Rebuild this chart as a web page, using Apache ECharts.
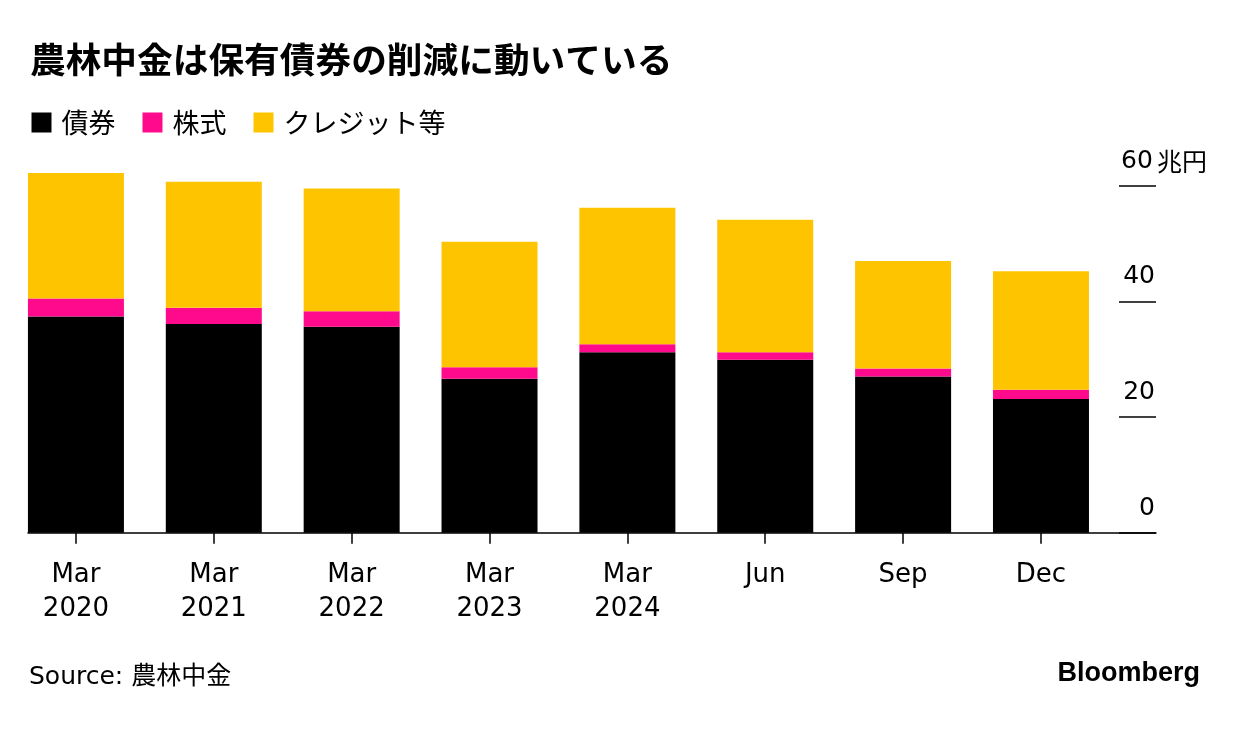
<!DOCTYPE html>
<html>
<head>
<meta charset="utf-8">
<script src="https://cdn.jsdelivr.net/npm/echarts@6/dist/echarts.min.js"></script>
<style>
html,body{margin:0;padding:0;background:#fff;}
#chart{width:1240px;height:732px;}
</style>
</head>
<body>
<div id="chart"></div>
<script>
// ---- data ----
const categories = ['Mar\n2020','Mar\n2021','Mar\n2022','Mar\n2023','Mar\n2024','Jun','Sep','Dec'];
const bonds  = [37.4, 36.1, 35.6, 26.6, 31.2, 29.9, 27.0, 23.1];   // 債券
const stocks = [3.1, 2.8, 2.7, 2.0, 1.4, 1.3, 1.4, 1.6];           // 株式
const credit = [21.7, 21.8, 21.2, 21.7, 23.6, 22.9, 18.6, 20.5];   // クレジット等
const seriesNames = ['債券', '株式', 'クレジット等'];
const yTicks = [0, 20, 40, 60];
const yUnit = '兆円';
const titleText = '農林中金は保有債券の削減に動いている';
const sourceText = 'Source: 農林中金';
const brandText = 'Bloomberg';

const LATIN = '"DejaVu Sans", "Noto Sans CJK JP", sans-serif';
const CJK = '"Noto Sans CJK JP", sans-serif';
const colors = ['#000000', '#ff0a8c', '#ffc400'];

const chart = echarts.init(document.getElementById('chart'), null, {renderer: 'canvas'});

const gridTop = 185.7, gridHeight = 347;

const option = {
  animation: false,
  backgroundColor: '#ffffff',
  title: [
    {text: titleText, left: 25, top: 37,
     textStyle: {fontFamily: CJK, fontWeight: 'bold', fontSize: 35.7, color: '#000'}},
    {text: sourceText, left: 24, top: 660,
     textStyle: {fontFamily: LATIN, fontWeight: 'normal', fontSize: 25, color: '#000'}},
    {text: brandText, right: 35, top: 655,
     textStyle: {fontFamily: '"Liberation Sans", sans-serif', fontWeight: 'bold', fontSize: 27, color: '#000'}}
  ],
  legend: {
    left: 26.5, top: 104,
    icon: 'rect', itemWidth: 20, itemHeight: 20, itemGap: 27,
    data: seriesNames,
    textStyle: {fontFamily: CJK, fontSize: 27, color: '#000', padding: [0, 0, 0, 5]},
    selectedMode: false
  },
  grid: [
    {left: 7, width: 1102.9, top: gridTop, height: gridHeight, containLabel: false},
    {left: 28, right: 84, top: gridTop, height: gridHeight, containLabel: false},
    {left: 1119, right: 84, top: gridTop, height: gridHeight, containLabel: false}
  ],
  xAxis: [
    {type: 'category', gridIndex: 0, data: categories,
     axisLine: {show: false},
     axisTick: {show: true, alignWithLabel: true, length: 11, lineStyle: {color: '#000', width: 1.5}},
     axisLabel: {fontFamily: LATIN, fontSize: 26, color: '#000', lineHeight: 34, margin: 26}},
    {type: 'value', gridIndex: 1, min: 0, max: 1,
     axisLine: {show: true, onZero: false, lineStyle: {color: '#000', width: 1.5}},
     axisTick: {show: false}, axisLabel: {show: false}, splitLine: {show: false}},
    {type: 'value', gridIndex: 2, min: 0, max: 1, show: false}
  ],
  yAxis: [
    {type: 'value', gridIndex: 0, min: 0, max: 60, show: false},
    {type: 'value', gridIndex: 1, min: 0, max: 60, show: false},
    {type: 'value', gridIndex: 2, position: 'right',
     min: yTicks[0], max: yTicks[yTicks.length - 1], interval: 20,
     axisLine: {show: false},
     axisTick: {show: false},
     splitLine: {show: true, lineStyle: {color: '#000', width: 1.5}},
     axisLabel: {
       inside: true, margin: 37, align: 'left', verticalAlign: 'bottom', padding: [0, 0, 12, 0],
       formatter: function (v) {
         return v === yTicks[yTicks.length - 1] ? '{n|' + v + '}{u|' + yUnit + '}' : '{n|' + v + '}';
       },
       rich: {
         n: {fontFamily: LATIN, fontSize: 25, color: '#000', width: 36, align: 'right'},
         u: {fontFamily: CJK, fontSize: 25, color: '#000', padding: [0, 0, 0, 2]}
       }
     }}
  ],
  series: [
    {name: seriesNames[0], type: 'bar', stack: 'total', data: bonds, barWidth: 96, clip: false,
     xAxisIndex: 0, yAxisIndex: 0, itemStyle: {color: colors[0]}},
    {name: seriesNames[1], type: 'bar', stack: 'total', data: stocks, barWidth: 96, clip: false,
     xAxisIndex: 0, yAxisIndex: 0, itemStyle: {color: colors[1]}},
    {name: seriesNames[2], type: 'bar', stack: 'total', data: credit, barWidth: 96, clip: false,
     xAxisIndex: 0, yAxisIndex: 0, itemStyle: {color: colors[2]}}
  ]
};
chart.setOption(option);
</script>
</body>
</html>
